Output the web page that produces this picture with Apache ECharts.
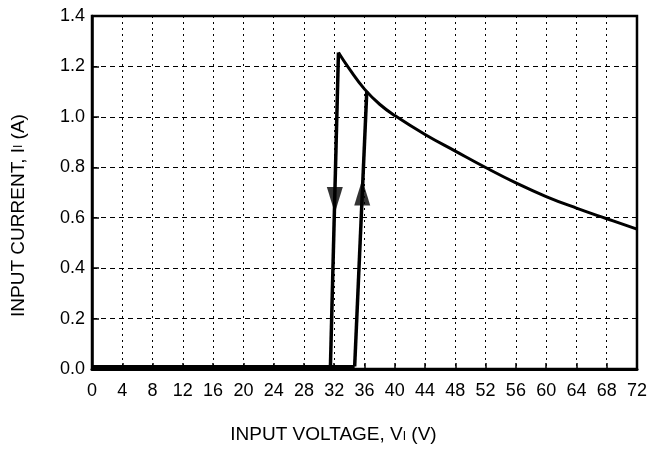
<!DOCTYPE html>
<html>
<head>
<meta charset="utf-8">
<script src="https://cdn.jsdelivr.net/npm/echarts@6/dist/echarts.min.js"></script>
<style>
html,body{margin:0;padding:0;background:#fff;}
#c{width:650px;height:449px;}
</style>
</head>
<body>
<div id="c"></div>
<script>
// x-axis tick values (V)
const xTicks = [0,4,8,12,16,20,24,28,32,36,40,44,48,52,56,60,64,68,72];
// decaying current curve after the turn-on peak
const curveX = [32.56, 34, 36, 38, 40, 44, 48, 52, 56, 60, 64, 68, 72];
const curveY = [1.255, 1.19, 1.11, 1.05, 1.005, 0.93, 0.864, 0.799, 0.738, 0.684, 0.638, 0.596, 0.555];
// turn-off (falling) segment
const fallX = [32.56, 31.5];
const fallY = [1.255, 0.01];
// turn-on (rising) segment
const riseX = [34.7, 36.3];
const riseY = [0.01, 1.1];
// near-zero current below threshold
const baseX = [0, 34.7];
const baseY = [0.01, 0.01];
// arrowheads: position and direction
const arrowX = [32.08, 35.7];
const arrowY = [0.67, 0.70];
const arrowDir = ['down', 'up'];

const zip = (xs, ys) => xs.map((x, i) => [x, ys[i]]);
const FONT = 'Liberation Sans, Arial, Helvetica, sans-serif';

const lineSeries = (data, width, smooth) => ({
  type: 'line', data: data, showSymbol: false, symbol: 'none', smooth: smooth || false,
  lineStyle: { color: '#000', width: width }, z: 5, silent: true, animation: false
});

const chart = echarts.init(document.getElementById('c'), null, { renderer: 'canvas' });
chart.setOption({
  backgroundColor: '#fff',
  animation: false,
  grid: { left: 92, right: 10, top: 16, bottom: 74, show: true, borderColor: '#000', borderWidth: 2.5, backgroundColor: 'transparent' },
  xAxis: {
    type: 'value', min: 0, max: 72, interval: 4,
    name: 'INPUT VOLTAGE, V{s|I} (V)', nameLocation: 'middle', nameGap: 56,
    nameTextStyle: { color: '#000', fontFamily: FONT, fontSize: 19, padding: [0, 62, 0, 0], rich: { s: { fontSize: 12, fontFamily: FONT, color: '#000', padding: [5, 0, 0, 0] } } },
    axisLine: { show: true, lineStyle: { color: '#000', width: 3 } },
    axisTick: { show: true, inside: true, length: 6, lineStyle: { color: '#000', width: 1.5 } },
    axisLabel: { color: '#000', fontFamily: FONT, fontSize: 18, margin: 13, formatter: v => xTicks.includes(v) ? String(v) : '' },
    splitLine: { show: true, lineStyle: { color: '#000', width: 1, type: [2, 4] } }
  },
  yAxis: {
    type: 'value', min: 0, max: 1.4, interval: 0.2,
    name: 'INPUT CURRENT, I{s|I} (A)', nameLocation: 'middle', nameGap: 64, nameRotate: 90,
    nameTextStyle: { color: '#000', fontFamily: FONT, fontSize: 19, padding: [0, 46, 0, 0], rich: { s: { fontSize: 12, fontFamily: FONT, color: '#000' } } },
    axisLine: { show: true, lineStyle: { color: '#000', width: 2.5 } },
    axisTick: { show: true, inside: true, length: 7, lineStyle: { color: '#000', width: 1.5 } },
    axisLabel: { color: '#000', fontFamily: FONT, fontSize: 18, margin: 7, formatter: v => v.toFixed(1) },
    splitLine: { show: true, lineStyle: { color: '#000', width: 1, type: [5, 4] } }
  },
  series: [
    lineSeries(zip(baseX, baseY), 3),
    lineSeries(zip(fallX, fallY), 3.5),
    lineSeries(zip(riseX, riseY), 3.5),
    lineSeries(zip(curveX, curveY), 3, 0.45),
    {
      type: 'scatter', silent: true, z: 6, animation: false,
      data: arrowX.map((x, i) => ({ value: [x, arrowY[i]], symbolRotate: arrowDir[i] === 'down' ? 180 : 0 })),
      symbol: 'triangle', symbolSize: [16, 26],
      itemStyle: { color: '#000' }
    }
  ]
});
</script>
</body>
</html>
